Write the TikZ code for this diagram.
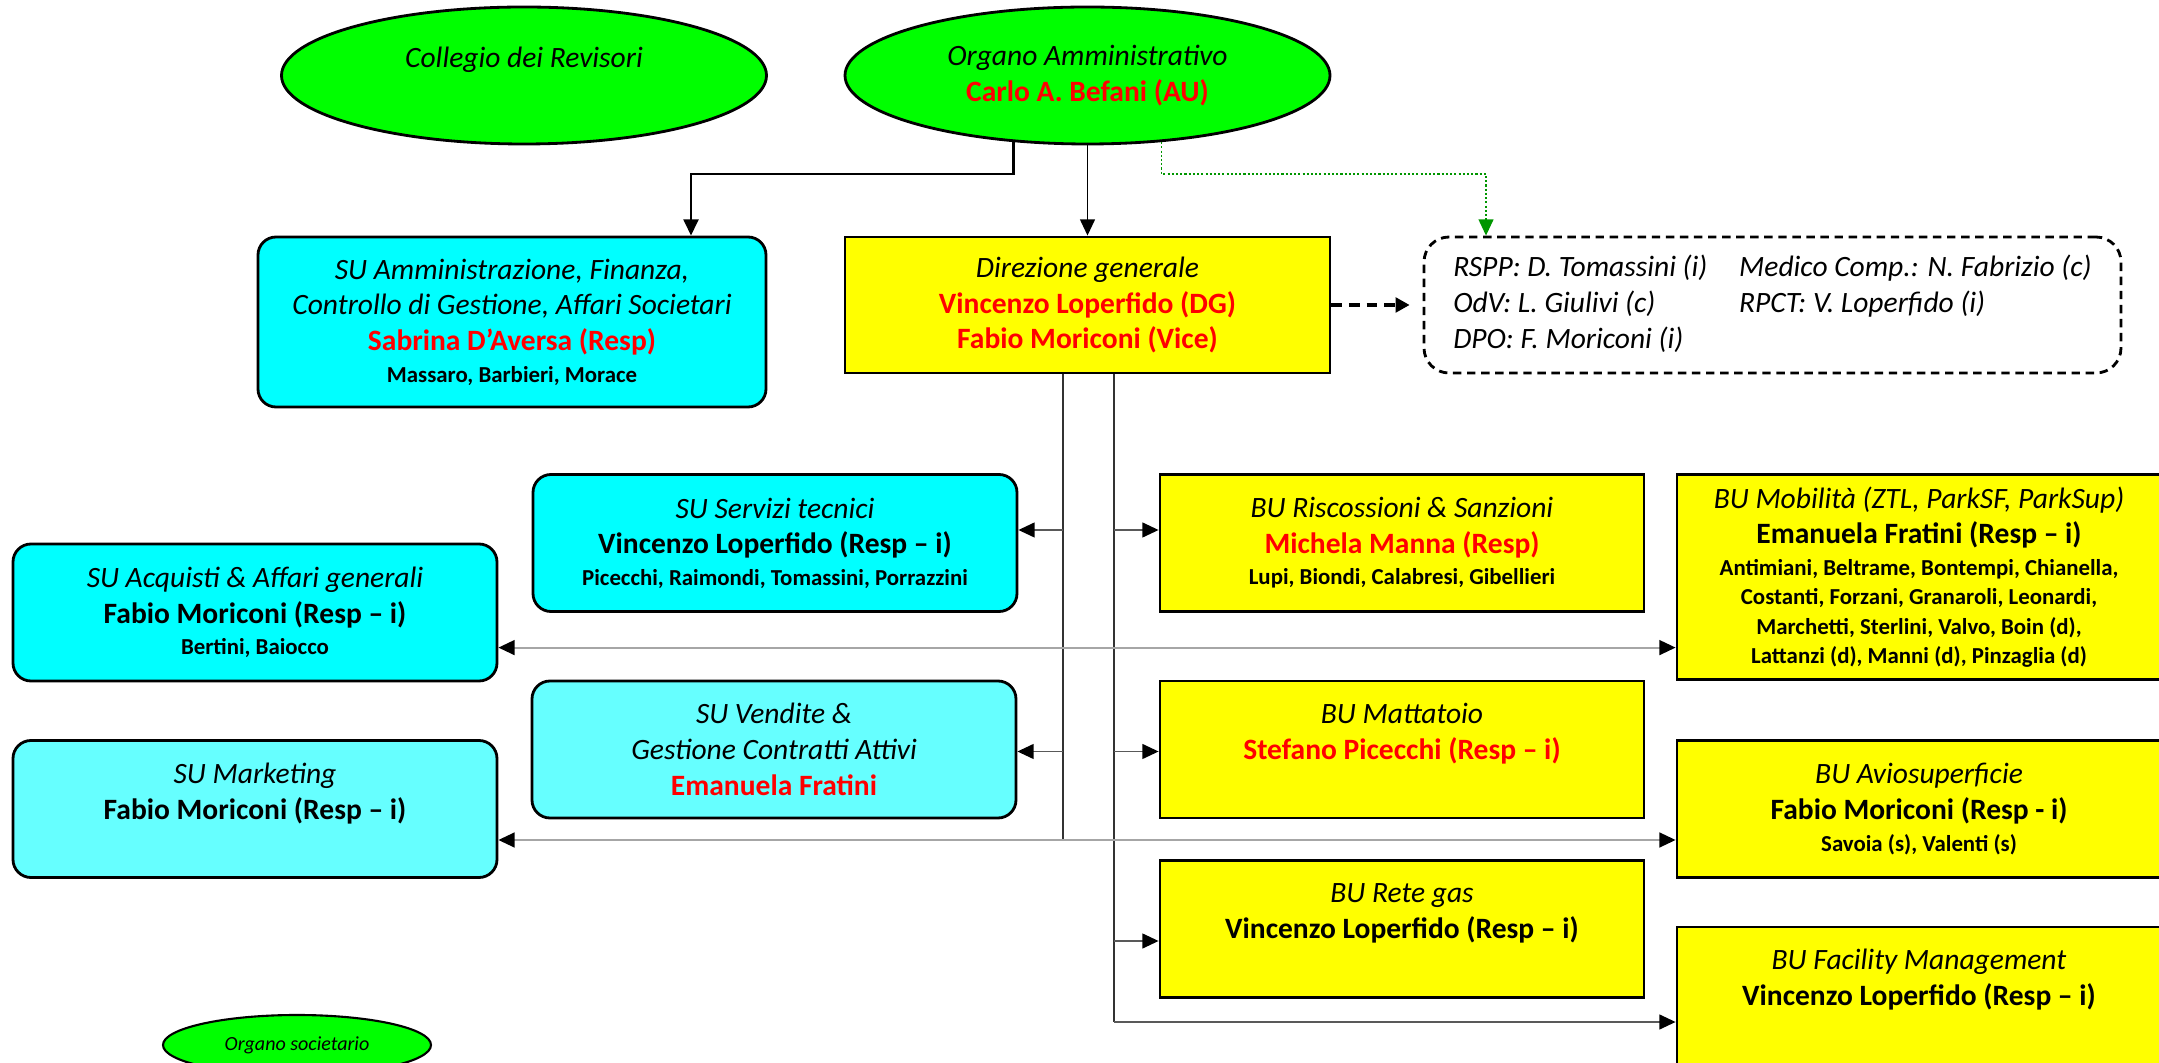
\documentclass[tikz,border=0pt]{standalone}
\usepackage{fontspec}
\setmainfont{Carlito}
\usetikzlibrary{shapes.geometric,arrows.meta}

\definecolor{ogreen}{RGB}{0,255,0}
\definecolor{ocyan}{RGB}{0,255,255}
\definecolor{olcyan}{RGB}{102,255,255}
\definecolor{oyellow}{RGB}{255,255,0}
\definecolor{ored}{RGB}{255,0,0}
\definecolor{odkgreen}{RGB}{0,150,0}

\newcommand{\unitname}[1]{\textit{#1}}
\newcommand{\headname}[1]{\textbf{#1}}
\newcommand{\headred}[1]{\textcolor{ored}{\textbf{#1}}}
\newcommand{\members}[1]{{\fontsize{6.5}{8.5}\selectfont\textbf{#1}}}

\begin{document}
\begin{tikzpicture}[
    unit/.style={rectangle, draw=black, line width=0.8pt, minimum width=4.84cm,
      minimum height=1.37cm, inner sep=0pt, align=center,
      font=\fontsize{8.4}{10.2}\selectfont},
    su/.style={unit, rounded corners=1.8mm, fill=ocyan},
    sulight/.style={su, fill=olcyan},
    bu/.style={unit, fill=oyellow},
    organ/.style={ellipse, draw=black, line width=0.8pt, fill=ogreen,
      minimum width=4.85cm, minimum height=1.37cm, inner sep=0pt, align=center,
      font=\fontsize{8.4}{10.2}\selectfont},
    tip/.style={-{Triangle[length=4.6pt,width=4.2pt,color=black]}},
    link/.style={tip, line width=0.5pt, black},
    trunk/.style={line width=0.45pt, black!80},
    branch/.style={tip, line width=0.5pt, black!65},
    longlink/.style={{Triangle[length=4.6pt,width=4.2pt,color=black]}-{Triangle[length=4.6pt,width=4.2pt,color=black]},
      line width=0.6pt, black!35},
    greenlink/.style={-{Triangle[length=4.6pt,width=4.2pt]}, line width=0.5pt, odkgreen,
      dash pattern=on 0.6pt off 0.6pt},
    dashlink/.style={-{Triangle[length=4pt,width=4.2pt]}, line width=0.9pt, black,
      dash pattern=on 3pt off 2pt, shorten >=1.3mm}
  ]
  \useasboundingbox (0,0) rectangle (21.59,-10.63);

  % Organi societari
  \node[organ] (colleg) at (5.24,-0.755) {\unitname{Collegio dei Revisori}\\ \mbox{}};
  \node[organ] (organo) at (10.875,-0.755)
    {\unitname{Organo Amministrativo}\\ \headred{Carlo A. Befani (AU)}};

  % Staff units
  \node[su, minimum width=5.08cm, minimum height=1.70cm] (suamm) at (5.12,-3.22)
    {\unitname{SU Amministrazione, Finanza,}\\
     \unitname{Controllo di Gestione, Affari Societari}\\
     \headred{Sabrina D’Aversa (Resp)}\\[-1.3pt]
     \members{Massaro, Barbieri, Morace}};
  \node[bu, minimum width=4.85cm, minimum height=1.36cm] (dirgen) at (10.875,-3.05)
    {\unitname{Direzione generale}\\
     \headred{Vincenzo Loperfido (DG)}\\
     \headred{Fabio Moriconi (Vice)}};
  \node[unit, dash pattern=on 2.4pt off 1.6pt, rounded corners=2.5mm,
    minimum width=6.97cm, minimum height=1.36cm] (staff) at (17.725,-3.05)
    {\itshape\begin{tabular}{@{}p{2.86cm}@{}l@{}}
      RSPP: D. Tomassini (i) & Medico Comp.: N. Fabrizio (c)\\
      OdV: L. Giulivi (c) & RPCT: V. Loperfido (i)\\
      DPO: F. Moriconi (i) & \\
    \end{tabular}};

  % Support units
  \node[su] (suserv) at (7.75,-5.43)
    {\unitname{SU Servizi tecnici}\\
     \headname{Vincenzo Loperfido (Resp – i)}\\[-1.3pt]
     \members{Picecchi, Raimondi, Tomassini, Porrazzini}};
  \node[su] (suacq) at (2.55,-6.125)
    {\unitname{SU Acquisti \& Affari generali}\\
     \headname{Fabio Moriconi (Resp – i)}\\[-1.3pt]
     \members{Bertini, Baiocco}};
  \node[sulight] (suvend) at (7.74,-7.495)
    {\unitname{SU Vendite \&}\\
     \unitname{Gestione Contratti Attivi}\\
     \headred{Emanuela Fratini}};
  \node[sulight] (sumkt) at (2.55,-8.09)
    {\unitname{SU Marketing}\\
     \headname{Fabio Moriconi (Resp – i)}\\ \mbox{}};

  % Business units
  \node[bu] (buriss) at (14.02,-5.43)
    {\unitname{BU Riscossioni \& Sanzioni}\\
     \headred{Michela Manna (Resp)}\\[-1.3pt]
     \members{Lupi, Biondi, Calabresi, Gibellieri}};
  \node[bu, minimum height=2.05cm] (bumob) at (19.19,-5.77)
    {\unitname{BU Mobilità (ZTL, ParkSF, ParkSup)}\\
     \headname{Emanuela Fratini (Resp – i)}\\[-1.3pt]
     \members{Antimiani, Beltrame, Bontempi, Chianella,}\\[-1.8pt]
     \members{Costanti, Forzani, Granaroli, Leonardi,}\\[-1.8pt]
     \members{Marchetti, Sterlini, Valvo, Boin (d),}\\[-1.8pt]
     \members{Lattanzi (d), Manni (d), Pinzaglia (d)}};
  \node[bu] (bumatt) at (14.02,-7.495)
    {\unitname{BU Mattatoio}\\
     \headred{Stefano Picecchi (Resp – i)}\\ \mbox{}};
  \node[bu] (buavio) at (19.19,-8.09)
    {\unitname{BU Aviosuperficie}\\
     \headname{Fabio Moriconi (Resp - i)}\\[-1.3pt]
     \members{Savoia (s), Valenti (s)}};
  \node[bu] (bugas) at (14.02,-9.29)
    {\unitname{BU Rete gas}\\
     \headname{Vincenzo Loperfido (Resp – i)}\\ \mbox{}};
  \node[bu] (bufac) at (19.19,-9.955)
    {\unitname{BU Facility Management}\\
     \headname{Vincenzo Loperfido (Resp – i)}\\ \mbox{}};

  % Legend
  \node[organ, line width=0.6pt, minimum width=2.68cm, minimum height=0.6cm,
    font=\fontsize{5.7}{7}\selectfont] (orgsoc) at (2.97,-10.45)
    {\unitname{Organo societario}};

  % Levels of the connectors
  \coordinate (lvlsplit) at (0,-1.74);
  \coordinate (rowserv) at (0,-5.30);
  \coordinate (rowacq) at (0,-6.476);
  \coordinate (rowvend) at (0,-7.515);
  \coordinate (rowmkt) at (0,-8.40);
  \coordinate (rowgas) at (0,-9.41);
  \coordinate (rowfac) at (0,-10.22);
  \coordinate (trunkL) at ([xshift=-2.45mm]dirgen.south);
  \coordinate (trunkR) at ([xshift=2.65mm]dirgen.south);

  % From the Organo Amministrativo
  \draw[link, line width=0.8pt] (organo.222.5) -- (organo.222.5 |- lvlsplit)
    -| ([xshift=1.79cm]suamm.north);
  \draw[link] (organo.south) -- (dirgen.north);
  \draw[greenlink] (organo.-42.5) -- (organo.-42.5 |- lvlsplit)
    -| ([xshift=-2.865cm]staff.north);
  \draw[dashlink] (dirgen.east) -- (staff.west);

  % Trunks under the Direzione generale
  \draw[trunk] (trunkL) -- (trunkL |- rowmkt);
  \draw[trunk] (trunkR) -- (trunkR |- rowfac);

  % Branches
  \draw[branch] (trunkL |- rowserv) -- (suserv.east |- rowserv);
  \draw[branch] (trunkL |- rowvend) -- (suvend.east |- rowvend);
  \draw[branch] (trunkR |- rowserv) -- (buriss.west |- rowserv);
  \draw[branch] (trunkR |- rowvend) -- (bumatt.west |- rowvend);
  \draw[branch] (trunkR |- rowgas) -- (bugas.west |- rowgas);
  \draw[branch] (trunkR |- rowfac) -- (bufac.west |- rowfac);
  \draw[longlink] (suacq.east |- rowacq) -- (bumob.west |- rowacq);
  \draw[longlink] (sumkt.east |- rowmkt) -- (buavio.west |- rowmkt);
\end{tikzpicture}
\end{document}
